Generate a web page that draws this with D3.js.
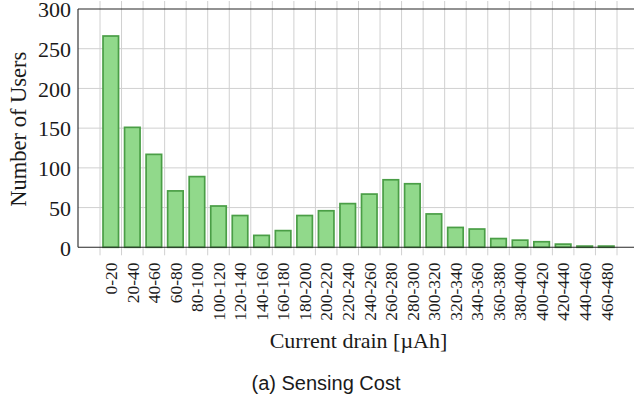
<!DOCTYPE html>
<html>
<head>
<meta charset="utf-8">
<script src="https://cdn.jsdelivr.net/npm/d3@7"></script>
<style>
  html, body { margin: 0; padding: 0; background: #ffffff; }
  svg { display: block; }
</style>
</head>
<body>
<svg id="chart" width="634" height="398"></svg>
<script>
// Current-drain histogram: number of users per 20 µAh bin
const categories = [
  "0-20", "20-40", "40-60", "60-80", "80-100", "100-120", "120-140", "140-160",
  "160-180", "180-200", "200-220", "220-240", "240-260", "260-280", "280-300",
  "300-320", "320-340", "340-360", "360-380", "380-400", "400-420", "420-440",
  "440-460", "460-480"
];
const users = [
  266, 151, 117, 71, 89, 52, 40, 15,
  21, 40, 46, 55, 67, 85, 80,
  42, 25, 23, 11, 9, 7, 4,
  1.5, 1.5
];
const yTicks = [0, 50, 100, 150, 200, 250, 300];

const svg = d3.select("#chart");

const plot = { left: 78, right: 639, top: 9, bottom: 247.3 };
const inset = 22;

const x = d3.scaleBand()
  .domain(categories)
  .range([plot.left + inset, plot.right - inset])
  .paddingInner(0)
  .paddingOuter(0);

const y = d3.scaleLinear()
  .domain([0, 300])
  .range([plot.bottom, plot.top]);

const serif = "'Liberation Serif', 'Times New Roman', serif";
const sans = "'Liberation Sans', Arial, Helvetica, sans-serif";
const gridColor = "#d0d0d0";

// horizontal grid
svg.append("g")
  .selectAll("line")
  .data(yTicks.filter(t => t > 0 && t < 300))
  .join("line")
  .attr("x1", plot.left)
  .attr("x2", plot.right)
  .attr("y1", d => y(d))
  .attr("y2", d => y(d))
  .attr("stroke", gridColor)
  .attr("stroke-width", 1);

// vertical grid at bin boundaries, poking out of the frame as tick marks
const edges = categories.map(c => x(c)).concat([x(categories[categories.length - 1]) + x.bandwidth()]);
svg.append("g")
  .selectAll("line")
  .data(edges)
  .join("line")
  .attr("x1", d => d)
  .attr("x2", d => d)
  .attr("y1", plot.top - 8)
  .attr("y2", plot.bottom + 8)
  .attr("stroke", gridColor)
  .attr("stroke-width", 1);

// bars
const barW = x.bandwidth() * 0.72;
svg.append("g")
  .selectAll("rect")
  .data(categories.map((c, i) => ({ c, v: users[i] })))
  .join("rect")
  .attr("x", d => x(d.c) + (x.bandwidth() - barW) / 2)
  .attr("y", d => y(d.v))
  .attr("width", barW)
  .attr("height", d => y(0) - y(d.v))
  .attr("fill", "#91d98b")
  .attr("stroke", "#4a9e46")
  .attr("stroke-width", 1.7);

// frame
const frame = svg.append("g").attr("stroke", "#262626").attr("stroke-width", 1.1).attr("fill", "none");
frame.append("line").attr("x1", plot.left).attr("x2", plot.right).attr("y1", plot.top).attr("y2", plot.top);
frame.append("line").attr("x1", plot.left).attr("x2", plot.right).attr("y1", plot.bottom).attr("y2", plot.bottom);
frame.append("line").attr("x1", plot.left).attr("x2", plot.left).attr("y1", plot.top).attr("y2", plot.bottom);
frame.append("line").attr("x1", plot.right).attr("x2", plot.right).attr("y1", plot.top).attr("y2", plot.bottom);

// y tick labels
svg.append("g")
  .selectAll("text")
  .data(yTicks)
  .join("text")
  .attr("x", 71)
  .attr("y", d => y(d) + 8.3)
  .attr("text-anchor", "end")
  .attr("font-family", serif)
  .attr("font-size", 22)
  .attr("fill", "#1a1a1a")
  .text(d => d);

// x tick labels, rotated
svg.append("g")
  .selectAll("text")
  .data(categories)
  .join("text")
  .attr("transform", d => `translate(${x(d) + x.bandwidth() / 2 + 6.3},262.5) rotate(-90)`)
  .attr("text-anchor", "end")
  .attr("font-family", serif)
  .attr("font-size", 17.5)
  .attr("fill", "#1a1a1a")
  .text(d => d);

// axis titles
svg.append("text")
  .attr("transform", `translate(25.5,${(plot.top + plot.bottom) / 2 + 1}) rotate(-90)`)
  .attr("text-anchor", "middle")
  .attr("font-family", serif)
  .attr("font-size", 22.5)
  .attr("fill", "#1a1a1a")
  .text("Number of Users");

svg.append("text")
  .attr("x", (plot.left + plot.right) / 2)
  .attr("y", 347.5)
  .attr("text-anchor", "middle")
  .attr("font-family", serif)
  .attr("font-size", 22)
  .attr("fill", "#1a1a1a")
  .text("Current drain [µAh]");

// caption
svg.append("text")
  .attr("x", 326)
  .attr("y", 390.3)
  .attr("text-anchor", "middle")
  .attr("font-family", sans)
  .attr("font-size", 20)
  .attr("fill", "#1a1a1a")
  .text("(a) Sensing Cost");
</script>
</body>
</html>
